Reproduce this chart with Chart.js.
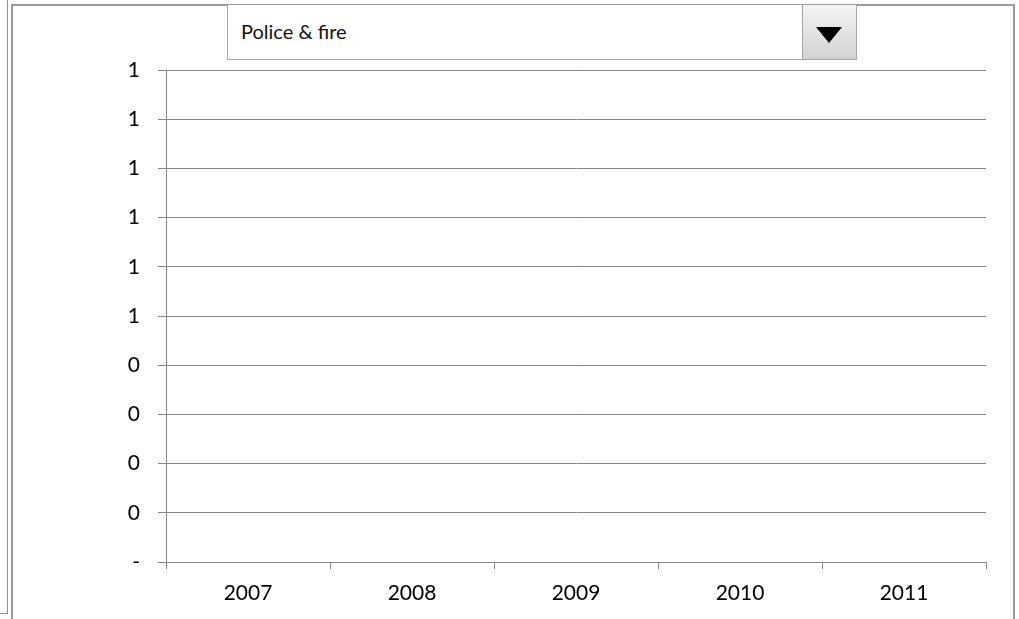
<!DOCTYPE html>
<html>
<head>
<meta charset="utf-8">
<script src="https://cdn.jsdelivr.net/npm/chart.js@4"></script>
<style>
  html, body { margin: 0; padding: 0; background: #fff; }
  body { width: 1019px; height: 619px; position: relative; overflow: hidden; font-family: Lato, "Open Sans", sans-serif; }
  #wrap { position: absolute; left: 0; top: 0; width: 1019px; height: 619px; }
  .line { position: absolute; background: #8c8c8c; }
  #frame { position: absolute; left: 11px; top: 4px; width: 1000px; height: 640px; border: 2px solid #9a9a9a; }
  #picker { position: absolute; left: 227px; top: 5px; width: 628px; height: 54px; border: 1px solid #a6a6a6; border-top: none; background: #fff; }
  #picker span { position: absolute; left: 13px; top: 14px; font-size: 20px; color: #111; }
  #btn { position: absolute; right: 0; top: 0; width: 53px; height: 54px; border-left: 1px solid #a6a6a6;
         background: linear-gradient(#f4f4f4, #d2d2d2); }
  #btn:after { content: ""; position: absolute; left: 13px; top: 22px; border-left: 13px solid transparent;
               border-right: 13px solid transparent; border-top: 16px solid #000; }
</style>
</head>
<body>
<div class="line" style="left:7px;top:0;width:1px;height:614px"></div>
<div class="line" style="left:0;top:613px;width:8px;height:1px"></div>
<div id="frame"></div>
<div id="wrap"><canvas id="chart" width="1019" height="619"></canvas></div>
<div id="picker"><span>Police &amp; fire</span><div id="btn"></div></div>
<script>
const years = ['2007', '2008', '2009', '2010', '2011'];
// selected series has no figures for these years
const policeFire = [null, null, null, null, null];
const yMin = 0;
const yMax = 1;
const yStep = 0.1;

const gridColor = '#858585';

const ctx = document.getElementById('chart').getContext('2d');

new Chart(ctx, {
  type: 'line',
  data: {
    labels: years,
    datasets: [{
      label: 'Police & fire',
      data: policeFire,
      borderColor: '#4f81bd',
      backgroundColor: '#4f81bd',
    }],
  },
  options: {
    responsive: false,
    animation: false,
    devicePixelRatio: 1,
    layout: { padding: { left: 0, right: 33, top: 70, bottom: 0 } },
    plugins: { legend: { display: false }, tooltip: { enabled: false } },
    scales: {
      x: {
        offset: true,
        grid: { offset: true, drawOnChartArea: false, drawTicks: true, tickLength: 7, color: gridColor },
        border: { color: gridColor },
        ticks: { color: '#000', padding: 12, font: { family: 'Lato', size: 21 }, maxRotation: 0 },
        afterFit: (axis) => { axis.height = 57; },
      },
      y: {
        min: yMin,
        max: yMax,
        grid: { color: gridColor, tickLength: 8 },
        border: { color: gridColor },
        ticks: {
          stepSize: yStep,
          color: '#000',
          padding: 18,
          font: { family: 'Lato', size: 21 },
          // whole-number format, zero shown as a dash
          callback: (v) => {
            const r = Math.round(Math.round(v * 10) / 10 + 1e-9);
            return r === 0 && Math.abs(v) < 1e-9 ? '-' : String(r);
          },
        },
        afterFit: (axis) => { axis.width = 166; },
      },
    },
  },
});
</script>
</body>
</html>
